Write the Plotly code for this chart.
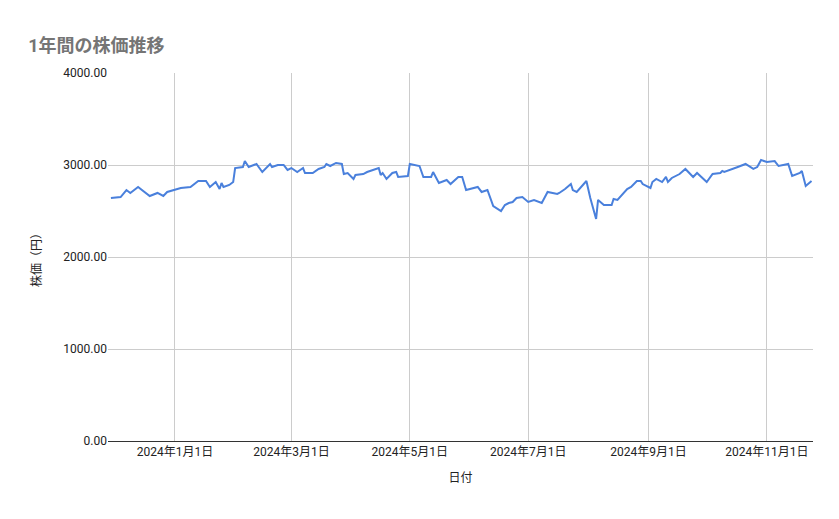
import plotly.graph_objects as go

dates = ["2023-11-29","2023-12-04","2023-12-07","2023-12-09","2023-12-13","2023-12-19","2023-12-23","2023-12-26","2023-12-28",
"2024-01-04","2024-01-09","2024-01-13","2024-01-17","2024-01-19","2024-01-22","2024-01-24","2024-01-25","2024-01-26","2024-01-29","2024-01-31",
"2024-02-01","2024-02-05","2024-02-06","2024-02-08","2024-02-12","2024-02-15","2024-02-19","2024-02-20","2024-02-23","2024-02-26","2024-02-28",
"2024-03-01","2024-03-04","2024-03-07","2024-03-08","2024-03-12","2024-03-15","2024-03-18","2024-03-19","2024-03-21","2024-03-24","2024-03-27","2024-03-28","2024-03-30",
"2024-04-02","2024-04-03","2024-04-07","2024-04-09","2024-04-15","2024-04-16","2024-04-17","2024-04-19","2024-04-22","2024-04-24","2024-04-25","2024-04-30",
"2024-05-01","2024-05-06","2024-05-08","2024-05-12","2024-05-13","2024-05-16","2024-05-20","2024-05-22","2024-05-26","2024-05-28","2024-05-30",
"2024-06-03","2024-06-05","2024-06-07","2024-06-10","2024-06-13","2024-06-17","2024-06-19","2024-06-21","2024-06-23","2024-06-25","2024-06-28",
"2024-07-01","2024-07-04","2024-07-08","2024-07-11","2024-07-16","2024-07-17","2024-07-20","2024-07-23","2024-07-24","2024-07-26","2024-07-31",
"2024-08-02","2024-08-05","2024-08-06","2024-08-09","2024-08-13","2024-08-14","2024-08-16","2024-08-19","2024-08-21","2024-08-23","2024-08-26","2024-08-28","2024-08-29",
"2024-09-02","2024-09-03","2024-09-05","2024-09-08","2024-09-10","2024-09-11","2024-09-13","2024-09-17","2024-09-20","2024-09-24","2024-09-26","2024-09-30",
"2024-10-01","2024-10-04","2024-10-08","2024-10-09","2024-10-10","2024-10-17","2024-10-21","2024-10-25","2024-10-27","2024-10-29",
"2024-11-01","2024-11-05","2024-11-07","2024-11-12","2024-11-14","2024-11-18","2024-11-19","2024-11-21","2024-11-24"]

prices = [2641,2652,2728,2696,2761,2663,2696,2663,2707,
2750,2761,2826,2826,2761,2815,2739,2804,2761,2783,2815,
2967,2978,3043,2978,3011,2924,3011,2978,3000,3000,2946,
2967,2924,2967,2913,2913,2957,2978,3011,2989,3022,3011,2902,2913,
2848,2891,2902,2924,2967,2891,2913,2848,2913,2924,2870,2880,
3011,2989,2870,2870,2924,2804,2837,2793,2870,2870,2728,
2750,2761,2707,2728,2554,2500,2565,2587,2598,2641,2652,
2598,2620,2587,2707,2685,2696,2739,2793,2728,2707,2826,
2641,2413,2620,2565,2565,2630,2620,2696,2739,2761,2826,2826,2793,
2750,2815,2848,2815,2870,2815,2859,2902,2957,2870,2913,2837,
2815,2902,2913,2935,2924,2978,3011,2957,2978,3054,
3033,3043,2989,3011,2880,2913,2935,2772,2826]

tick_vals = ["2024-01-01","2024-03-01","2024-05-01","2024-07-01","2024-09-01","2024-11-01"]
tick_text = ["2024年1月1日","2024年3月1日","2024年5月1日","2024年7月1日","2024年9月1日","2024年11月1日"]
y_ticks = [0, 1000, 2000, 3000, 4000]

fig = go.Figure(go.Scatter(x=dates, y=prices, mode="lines",
                           line=dict(color="#4a80dc", width=2)))
fig.update_layout(
    width=839, height=519, paper_bgcolor="white", plot_bgcolor="white",
    margin=dict(l=100, r=34, t=65, b=86),
    font=dict(family="Roboto, Noto Sans CJK JP", size=12, color="#222"),
    title=dict(text="<b>1年間の株価推移</b>", x=0.024, xanchor="left", y=0.94,
               font=dict(size=18, color="#757575")),
    showlegend=False,
    xaxis=dict(range=["2023-11-27T12:00", "2024-11-24T18:00"], tickvals=tick_vals, ticktext=tick_text,
               showgrid=True, gridcolor="#cccccc", gridwidth=1, zeroline=False, automargin=False,
               showline=True, linecolor="#333", ticks="", tickfont=dict(size=12),
               title=dict(text="日付", font=dict(size=12), standoff=15)),
    yaxis=dict(range=[0, 4000], tickvals=y_ticks, tickformat=".2f", automargin=False,
               showgrid=True, gridcolor="#cccccc", zeroline=False, ticks="",
               tickfont=dict(size=12), title=dict(text="株価（円）", font=dict(size=12), standoff=19)),
)
fig.write_html("out.html")
